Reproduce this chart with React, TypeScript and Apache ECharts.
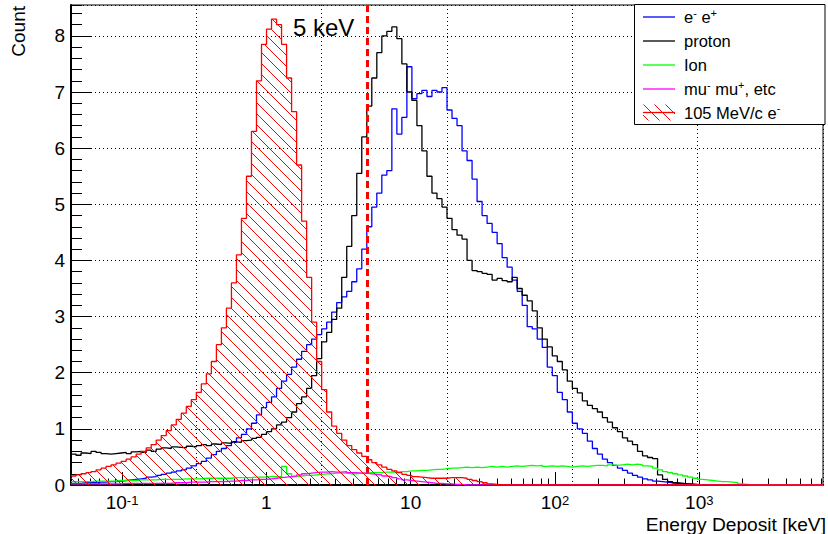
import React, { useEffect, useRef } from 'react';
import * as echarts from 'echarts';

const X_MIN = 0.0443;
const X_MAX = 7200;
const N_BINS = 150;
const Y_MAX = 8.55;
const CUT_ENERGY = 5;

const seriesNames = ['e- e+', 'proton', 'Ion', 'mu- mu+, etc', '105 MeV/c e-'];

const electronCounts = [
  0.03, 0.03, 0.04, 0.04, 0.04, 0.05, 0.05, 0.06, 0.06, 0.07,
  0.08, 0.09, 0.1, 0.11, 0.12, 0.14, 0.15, 0.17, 0.19, 0.21,
  0.23, 0.25, 0.27, 0.3, 0.34, 0.38, 0.42, 0.48, 0.54, 0.6,
  0.65, 0.7, 0.76, 0.84, 0.9, 1.0, 1.1, 1.25, 1.38, 1.47,
  1.57, 1.72, 1.85, 1.97, 2.1, 2.24, 2.38, 2.5, 2.6, 2.68,
  2.78, 2.9, 3.08, 3.25, 3.35, 3.45, 3.62, 3.85, 4.2, 4.6,
  4.95, 5.2, 5.52, 5.6, 6.7, 6.25, 6.55, 7.45, 6.88, 6.97,
  7.03, 6.92, 7.03, 7.0, 7.08, 6.68, 6.53, 6.4, 5.95, 5.78,
  5.45, 5.05, 4.8, 4.66, 4.5, 4.3, 4.05, 3.88, 3.65, 3.45,
  3.2, 2.82, 2.78, 2.6, 2.45, 2.1, 1.95, 1.65, 1.52, 1.3,
  1.1, 1.0, 0.92, 0.78, 0.65, 0.55, 0.46, 0.4, 0.35, 0.3,
  0.26, 0.21, 0.17, 0.14, 0.11, 0.09, 0.07, 0.06, 0.05, 0.04,
  0.03, 0.03, 0.02, 0.02, 0.01, 0, 0, 0, 0, 0,
  0, 0, 0, 0, 0, 0, 0, 0, 0, 0,
  0, 0, 0, 0, 0, 0, 0, 0, 0, 0,
];

const protonCounts = [
  0.55, 0.53, 0.57, 0.56, 0.6, 0.58, 0.56, 0.55, 0.56, 0.57,
  0.58, 0.56, 0.59, 0.6, 0.58, 0.62, 0.6, 0.64, 0.66, 0.65,
  0.68, 0.67, 0.66, 0.69, 0.68, 0.7, 0.72, 0.7, 0.73, 0.72,
  0.75, 0.74, 0.77, 0.76, 0.79, 0.8, 0.83, 0.85, 0.9, 0.95,
  1.0, 1.07, 1.12, 1.2, 1.3, 1.45, 1.57, 1.72, 1.95, 2.25,
  2.55, 2.72, 2.95, 3.15, 3.7, 4.25, 4.8, 5.55, 6.2, 6.75,
  7.25, 7.7, 8.0, 8.08, 8.16, 7.95, 7.5, 7.0, 6.85, 6.4,
  5.95, 5.5, 5.2, 5.1, 4.95, 4.75, 4.55, 4.45, 4.38, 4.0,
  3.82, 3.8, 3.77, 3.75, 3.65, 3.68, 3.64, 3.62, 3.7, 3.5,
  3.38, 3.28, 3.1, 2.8, 2.6, 2.46, 2.3, 2.2, 2.05, 1.85,
  1.72, 1.64, 1.5, 1.42, 1.36, 1.3, 1.2, 1.12, 1.02, 0.95,
  0.84, 0.78, 0.72, 0.6, 0.52, 0.49, 0.47, 0.18, 0.1, 0.06,
  0.04, 0.03, 0.02, 0.01, 0, 0, 0, 0, 0, 0,
  0, 0, 0, 0, 0, 0, 0, 0, 0, 0,
  0, 0, 0, 0, 0, 0, 0, 0, 0, 0,
];

const ionCounts = [
  0.06, 0.06, 0.06, 0.06, 0.07, 0.07, 0.07, 0.07, 0.07, 0.08,
  0.08, 0.08, 0.08, 0.09, 0.09, 0.09, 0.09, 0.1, 0.1, 0.1,
  0.1, 0.1, 0.11, 0.11, 0.11, 0.11, 0.12, 0.12, 0.12, 0.12,
  0.12, 0.12, 0.13, 0.13, 0.13, 0.13, 0.14, 0.14, 0.14, 0.15,
  0.15, 0.15, 0.33, 0.2, 0.15, 0.16, 0.17, 0.17, 0.18, 0.19,
  0.2, 0.2, 0.21, 0.21, 0.21, 0.2, 0.2, 0.21, 0.21, 0.22,
  0.22, 0.22, 0.23, 0.23, 0.23, 0.24, 0.24, 0.25, 0.25, 0.26,
  0.26, 0.27, 0.28, 0.28, 0.29, 0.3, 0.3, 0.31, 0.32, 0.31,
  0.32, 0.31, 0.32, 0.33, 0.32, 0.33, 0.32, 0.33, 0.34, 0.33,
  0.34, 0.35, 0.34, 0.35, 0.33, 0.34, 0.33, 0.34, 0.33, 0.32,
  0.33, 0.34, 0.33, 0.34, 0.35, 0.35, 0.34, 0.36, 0.35, 0.36,
  0.37, 0.36, 0.37, 0.36, 0.34, 0.33, 0.3, 0.27, 0.24, 0.22,
  0.2, 0.18, 0.16, 0.14, 0.12, 0.1, 0.09, 0.08, 0.07, 0.06,
  0.06, 0.05, 0.04, 0.02, 0.01, 0, 0, 0, 0, 0,
  0, 0, 0, 0, 0, 0, 0, 0, 0, 0,
];

const muonCounts = [
  0.02, 0.02, 0.02, 0.02, 0.02, 0.02, 0.02, 0.02, 0.02, 0.02,
  0.03, 0.03, 0.03, 0.03, 0.03, 0.03, 0.03, 0.03, 0.03, 0.03,
  0.04, 0.04, 0.04, 0.05, 0.05, 0.05, 0.05, 0.06, 0.06, 0.06,
  0.06, 0.07, 0.07, 0.08, 0.08, 0.09, 0.09, 0.1, 0.1, 0.11,
  0.12, 0.13, 0.14, 0.15, 0.16, 0.18, 0.2, 0.21, 0.22, 0.23,
  0.23, 0.24, 0.23, 0.23, 0.24, 0.22, 0.22, 0.21, 0.21, 0.2,
  0.19, 0.18, 0.16, 0.15, 0.13, 0.11, 0.09, 0.08, 0.07, 0.06,
  0.05, 0.04, 0.03, 0.03, 0.02, 0.02, 0.01, 0.01, 0, 0,
  0, 0, 0, 0, 0, 0, 0, 0, 0, 0,
  0, 0, 0, 0, 0, 0, 0, 0, 0, 0,
  0, 0, 0, 0, 0, 0, 0, 0, 0, 0,
  0, 0, 0, 0, 0, 0, 0, 0, 0, 0,
  0, 0, 0, 0, 0, 0, 0, 0, 0, 0,
  0, 0, 0, 0, 0, 0, 0, 0, 0, 0,
  0, 0, 0, 0, 0, 0, 0, 0, 0, 0,
];

const beamCounts = [
  0.16, 0.18, 0.2, 0.22, 0.24, 0.27, 0.3, 0.33, 0.36, 0.39,
  0.42, 0.46, 0.5, 0.55, 0.6, 0.66, 0.72, 0.8, 0.88, 0.97,
  1.07, 1.17, 1.28, 1.4, 1.52, 1.65, 1.8, 1.98, 2.2, 2.5,
  2.8, 3.15, 3.6, 4.1, 4.75, 5.5, 6.3, 7.2, 7.85, 8.12,
  8.3, 8.2, 7.85, 7.25, 6.65, 5.7, 4.7, 3.7, 2.9, 2.2,
  1.7, 1.3, 1.05, 0.92, 0.8, 0.7, 0.63, 0.57, 0.51, 0.45,
  0.4, 0.36, 0.32, 0.28, 0.25, 0.22, 0.19, 0.17, 0.15, 0.14,
  0.13, 0.12, 0.12, 0.12, 0.12, 0.13, 0.13, 0.13, 0.12, 0.1,
  0.08, 0.06, 0.04, 0.02, 0.01, 0, 0, 0, 0, 0,
  0, 0, 0, 0, 0, 0, 0, 0, 0, 0,
  0, 0, 0, 0, 0, 0, 0, 0, 0, 0,
  0, 0, 0, 0, 0, 0, 0, 0, 0, 0,
  0, 0, 0, 0, 0, 0, 0, 0, 0, 0,
  0, 0, 0, 0, 0, 0, 0, 0, 0, 0,
  0, 0, 0, 0, 0, 0, 0, 0, 0, 0,
];

const majorTickValues = [0.1, 1, 10, 100, 1000];
const minorTickValues = [
  0.05, 0.06, 0.07, 0.08, 0.09,
  0.2, 0.3, 0.4, 0.5, 0.6, 0.7, 0.8, 0.9,
  2, 3, 4, 5, 6, 7, 8, 9,
  20, 30, 40, 50, 60, 70, 80, 90,
  200, 300, 400, 500, 600, 700, 800, 900,
  2000, 3000, 4000, 5000, 6000, 7000,
];

const FONT = '"Liberation Sans", Arial, Helvetica, sans-serif';
const LOG_MIN = Math.log10(X_MIN);
const LOG_MAX = Math.log10(X_MAX);
const binEdges = Array.from({ length: N_BINS + 1 }, (_, i) =>
  Math.pow(10, LOG_MIN + (i * (LOG_MAX - LOG_MIN)) / N_BINS)
);

function histogramPoints(counts: number[]) {
  const pts: number[][] = counts.map((c, i) => [binEdges[i], c]);
  pts.push([binEdges[N_BINS], counts[N_BINS - 1]]);
  return pts;
}

function makeHatch() {
  const s = 11;
  const c = document.createElement('canvas');
  c.width = s;
  c.height = s;
  const ctx = c.getContext('2d')!;
  ctx.strokeStyle = '#ff0000';
  ctx.lineWidth = 1;
  ctx.beginPath();
  for (const k of [-s, 0, s]) {
    ctx.moveTo(k - 1, -1);
    ctx.lineTo(k + s + 1, s + 1);
  }
  ctx.stroke();
  return { image: c, repeat: 'repeat' as const };
}

function logLabel(v: number) {
  const l = Math.round(Math.log10(v));
  if (l === 0) return '1';
  if (l === 1) return '10';
  return '10{sup|' + l + '}';
}

export default function App() {
  const ref = useRef<HTMLDivElement>(null);
  useEffect(() => {
    document.body.style.margin = '0';
    if (!ref.current) return;
    const chart = echarts.init(ref.current, undefined, { renderer: 'svg' });
    const hatch = makeHatch();
    const colors = ['#0000ff', '#000000', '#00ff00', '#ff00ff', '#ff0000'];
    const allCounts = [electronCounts, protonCounts, ionCounts, muonCounts, beamCounts];

    const series: any[] = allCounts.map((counts, i) => ({
      name: seriesNames[i],
      type: 'line',
      xAxisIndex: 0,
      yAxisIndex: 0,
      step: 'end',
      symbol: 'none',
      silent: true,
      data: histogramPoints(counts),
      lineStyle: { color: colors[i], width: 1.3 },
      z: 2 + i,
    }));
    series[4].areaStyle = { color: hatch, opacity: 1, origin: 'start' };
    series[4].markLine = {
      silent: true,
      symbol: ['none', 'none'],
      label: { show: false },
      lineStyle: { color: '#ff0000', type: [7, 4], width: 3 },
      data: [{ xAxis: CUT_ENERGY }],
    };

    const legendRows = [
      'e{sup|-} e{sup|+}',
      'proton',
      'Ion',
      'mu{sup|-} mu{sup|+}, etc',
      '105 MeV/c e{sup|-}',
    ];
    const rowY = [17, 41, 65, 89, 112.5];
    const legendGraphics: any[] = [
      {
        type: 'rect',
        shape: { x: 634.5, y: 4.5, width: 190.5, height: 120 },
        style: { fill: '#ffffff', stroke: '#000000', lineWidth: 1 },
        z: 100,
      },
    ];
    legendRows.forEach((t, i) => {
      if (i < 4) {
        legendGraphics.push({
          type: 'line',
          shape: { x1: 643, y1: rowY[i], x2: 675, y2: rowY[i] },
          style: { stroke: colors[i], lineWidth: 1.3 },
          z: 101,
        });
      } else {
        legendGraphics.push({
          type: 'rect',
          shape: { x: 643, y: rowY[i] - 8, width: 32, height: 16 },
          style: { fill: hatch, stroke: 'none' },
          z: 101,
        });
        legendGraphics.push({
          type: 'line',
          shape: { x1: 643, y1: rowY[i], x2: 675, y2: rowY[i] },
          style: { stroke: colors[i], lineWidth: 1.3 },
          z: 102,
        });
      }
      legendGraphics.push({
        type: 'text',
        x: 684,
        y: rowY[i],
        style: {
          text: t,
          fontSize: 16.5,
          fontFamily: FONT,
          fill: '#000',
          verticalAlign: 'middle',
          lineHeight: 20,
          rich: {
            sup: { fontSize: 11, fontFamily: FONT, verticalAlign: 'top', lineHeight: 12 },
          },
        },
        z: 101,
      });
    });

    chart.setOption({
      animation: false,
      grid: {
        left: 71,
        right: 5,
        top: 5,
        bottom: 49,
        show: true,
        borderColor: '#000',
        borderWidth: 1,
        backgroundColor: 'transparent',
      },
      xAxis: [
        {
          type: 'log',
          min: X_MIN,
          max: X_MAX,
          position: 'bottom',
          axisLine: { show: true, lineStyle: { color: '#000', width: 2 } },
          axisTick: {
            show: true,
            inside: true,
            length: 13,
            customValues: majorTickValues,
            lineStyle: { color: '#000', width: 1 },
          },
          minorTick: { show: false },
          splitLine: { show: false },
          axisLabel: {
            customValues: majorTickValues,
            formatter: logLabel,
            fontSize: 19,
            fontFamily: FONT,
            color: '#000',
            margin: 9,
            lineHeight: 16,
            rich: {
              sup: { fontSize: 13, fontFamily: FONT, color: '#000', verticalAlign: 'top', lineHeight: 12 },
            },
          },
        },
        {
          type: 'log',
          min: X_MIN,
          max: X_MAX,
          position: 'bottom',
          axisLine: { show: false },
          axisTick: {
            show: true,
            inside: true,
            length: 6.5,
            customValues: minorTickValues,
            lineStyle: { color: '#000', width: 1 },
          },
          axisLabel: { show: false },
          splitLine: { show: false },
        },
        {
          type: 'value',
          min: 0,
          max: 6,
          interval: 1,
          position: 'top',
          axisLine: { show: false },
          axisTick: { show: false },
          axisLabel: { show: false },
          splitLine: { show: true, lineStyle: { color: '#000', type: [1, 3], width: 1 } },
        },
      ],
      yAxis: [
        {
          type: 'value',
          min: 0,
          max: Y_MAX,
          interval: 1,
          position: 'left',
          axisLine: { show: true, lineStyle: { color: '#000', width: 2 } },
          axisTick: { show: true, inside: true, length: 21, lineStyle: { color: '#000', width: 1 } },
          axisLabel: {
            fontSize: 19,
            fontFamily: FONT,
            color: '#000',
            margin: 6,
            showMaxLabel: false,
          },
          splitLine: { show: true, lineStyle: { color: '#000', type: [1, 3], width: 1 } },
        },
        {
          type: 'value',
          min: 0,
          max: Y_MAX,
          interval: 0.2,
          position: 'left',
          axisLine: { show: false },
          axisTick: { show: true, inside: true, length: 11, lineStyle: { color: '#000', width: 1 } },
          axisLabel: { show: false },
          splitLine: { show: false },
        },
      ],
      series,
      graphic: [
        {
          type: 'text',
          x: 293,
          y: 27,
          style: { text: '5 keV', fontSize: 24, fontFamily: FONT, fill: '#000', verticalAlign: 'middle' },
          z: 50,
        },
        {
          type: 'text',
          x: 18,
          y: 6,
          rotation: Math.PI / 2,
          style: {
            text: 'Count',
            fontSize: 19,
            fontFamily: FONT,
            fill: '#000',
            align: 'right',
            verticalAlign: 'middle',
          },
        },
        {
          type: 'text',
          x: 826,
          y: 524,
          style: {
            text: 'Energy Deposit [keV]',
            fontSize: 19.2,
            fontFamily: FONT,
            fill: '#000',
            align: 'right',
            verticalAlign: 'middle',
          },
        },
        ...legendGraphics,
      ],
    });
    return () => chart.dispose();
  }, []);
  return <div ref={ref} style={{ width: 828, height: 534 }} />;
}
